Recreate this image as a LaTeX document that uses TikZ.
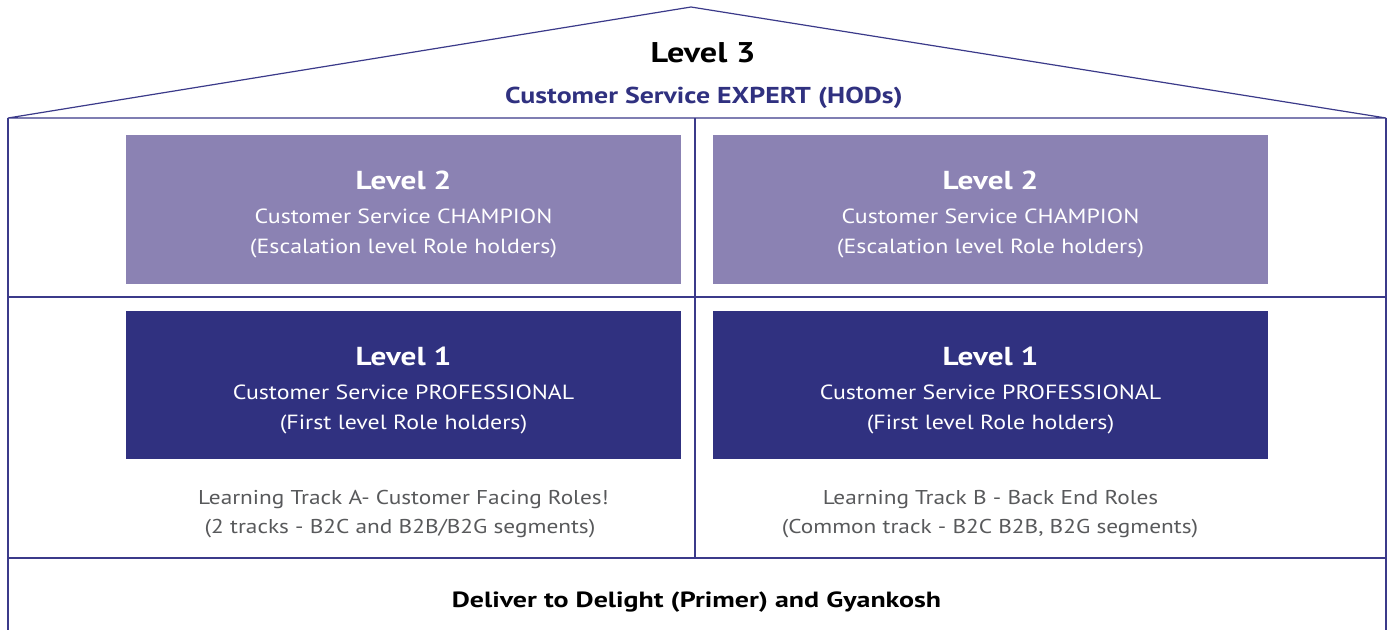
\documentclass[tikz,border=0pt]{standalone}
\usepackage{fontspec}
\setmainfont{PT Sans}
\newfontfamily\regf{PT Sans}[FakeStretch=1.165]
\newfontfamily\lvlf{PT Sans}[FakeStretch=1.2]
\newfontfamily\subf{PT Sans}[FakeStretch=1.21]
\newfontfamily\botf{PT Sans}[FakeStretch=1.27]
\definecolor{lineblue}{HTML}{3B3A8A}
\definecolor{lightpurple}{HTML}{8B82B3}
\definecolor{darkblue}{HTML}{303180}
\definecolor{graytext}{HTML}{58595B}
\begin{document}
\begin{tikzpicture}[x=1pt,y=-1pt,
  frame/.style={draw=lineblue,line width=1.2pt},
  lvltwo/.style={fill=lightpurple,minimum width=555pt,minimum height=149pt,anchor=north west,inner sep=0pt},
  lvlone/.style={fill=darkblue,minimum width=555pt,minimum height=148pt,anchor=north west,inner sep=0pt},
  head/.style={anchor=base,inner sep=0pt,text=white,font=\lvlf\fontsize{26}{30}\selectfont\bfseries},
  boxtxt/.style={anchor=base,inner sep=0pt,text=white,font=\regf\fontsize{20.5}{24}\selectfont},
  tracktxt/.style={anchor=base,inner sep=0pt,text=graytext,font=\regf\fontsize{20}{24}\selectfont},
  ]
\useasboundingbox (0,0) rectangle (1391,630);
\fill[white] (0,0) rectangle (1391,630);
% coordinates
\coordinate (rl) at (8,118);
\coordinate (peak) at (691,7);
\coordinate (rr) at (1386,118);
\coordinate (bl) at (8,630);
\coordinate (br) at (1386,630);
\coordinate (ml) at (8,297);
\coordinate (mr) at (1386,297);
\coordinate (fl) at (8,558);
\coordinate (fr) at (1386,558);
\coordinate (vt) at (695,118);
\coordinate (vb) at (695,558);
% roof
\draw[frame,line join=miter] (rl) -- (peak) -- (rr) -- cycle;
% walls
\draw[frame] (rl) -- (bl);
\draw[frame] (rr) -- (br);
\draw[frame] (ml) -- (mr);
\draw[frame] (fl) -- (fr);
\draw[frame] (vt) -- (vb);
% level 3
\node[anchor=base,inner sep=0pt,font=\lvlf\fontsize{28.5}{32}\selectfont\bfseries] (l3) at (703,62) {Level 3};
\node[anchor=base,inner sep=0pt,font=\subf\fontsize{23}{26}\selectfont\bfseries,text=darkblue] (l3s) at (704,103) {Customer Service EXPERT (HODs)};
% boxes
\node[lvltwo] (b2a) at (126,135) {};
\node[lvltwo] (b2b) at (713,135) {};
\node[lvlone] (b1a) at (126,311) {};
\node[lvlone] (b1b) at (713,311) {};
% level 2 text
\node[head] (h2a) at (403.5,189) {Level 2};
\node[boxtxt] (c2a) at (403.5,223) {Customer Service CHAMPION};
\node[boxtxt] (r2a) at (403.5,253) {(Escalation level Role holders)};
\node[head] (h2b) at (990.5,189) {Level 2};
\node[boxtxt] (c2b) at (990.5,223) {Customer Service CHAMPION};
\node[boxtxt] (r2b) at (990.5,253) {(Escalation level Role holders)};
% level 1 text
\node[head] (h1a) at (403.5,365) {Level 1};
\node[boxtxt] (c1a) at (403.5,399) {Customer Service PROFESSIONAL};
\node[boxtxt] (r1a) at (403.5,429) {(First level Role holders)};
\node[head] (h1b) at (990.5,365) {Level 1};
\node[boxtxt] (c1b) at (990.5,399) {Customer Service PROFESSIONAL};
\node[boxtxt] (r1b) at (990.5,429) {(First level Role holders)};
% tracks
\node[tracktxt] (ta1) at (403.5,504) {Learning Track A- Customer Facing Roles!};
\node[tracktxt] (ta2) at (400,533) {(2 tracks - B2C and B2B/B2G segments)};
\node[tracktxt] (tb1) at (990.5,504) {Learning Track B - Back End Roles};
\node[tracktxt] (tb2) at (990,533) {(Common track - B2C B2B, B2G segments)};
% foundation
\node[anchor=base,inner sep=0pt,font=\botf\fontsize{22}{26}\selectfont\bfseries] (bot) at (696.5,607) {Deliver to Delight (Primer) and Gyankosh};
\end{tikzpicture}
\end{document}
